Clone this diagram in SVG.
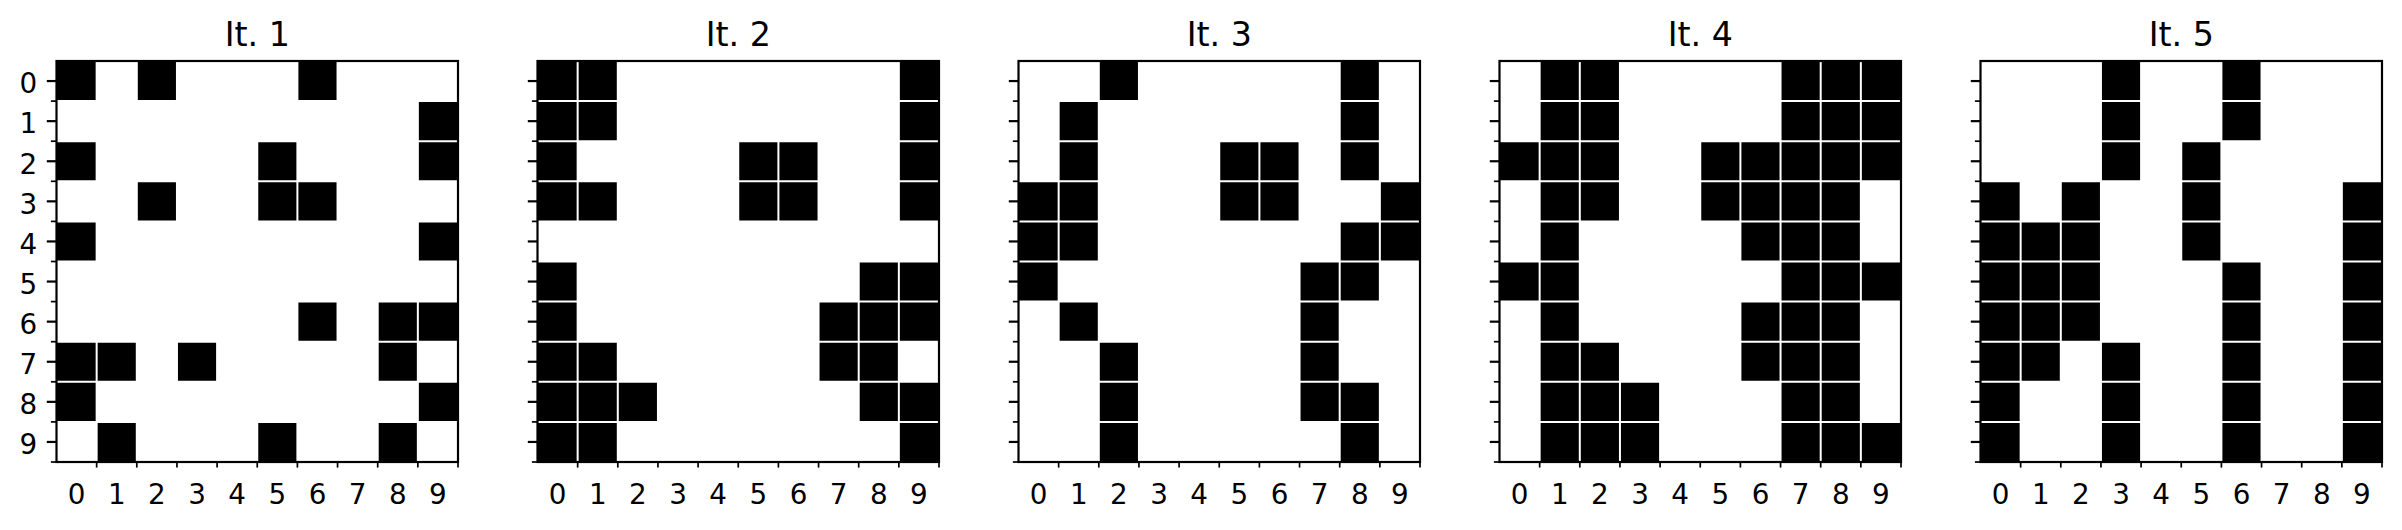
<svg xmlns="http://www.w3.org/2000/svg" width="2402" height="530" viewBox="0 0 2402 530">
<style>
text{font-family:"DejaVu Sans","Liberation Sans",sans-serif;fill:#000}
.t{font-size:33.3px;text-anchor:middle}
.xl text{font-size:27.8px;text-anchor:middle}
.yl text{font-size:27.8px;text-anchor:end}
.grid line{stroke:#fff;stroke-width:2}
.spine{fill:none;stroke:#000;stroke-width:2.2}
.maj line{stroke:#000;stroke-width:2.2}
.min line{stroke:#000;stroke-width:1.7}
</style>
<defs>
<g id="grid" class="grid">
<line x1="40.15" y1="0" x2="40.15" y2="401"/><line x1="80.3" y1="0" x2="80.3" y2="401"/><line x1="120.45" y1="0" x2="120.45" y2="401"/><line x1="160.6" y1="0" x2="160.6" y2="401"/><line x1="200.75" y1="0" x2="200.75" y2="401"/><line x1="240.9" y1="0" x2="240.9" y2="401"/><line x1="281.05" y1="0" x2="281.05" y2="401"/><line x1="321.2" y1="0" x2="321.2" y2="401"/><line x1="361.35" y1="0" x2="361.35" y2="401"/>
<line x1="0" y1="40.1" x2="401.5" y2="40.1"/><line x1="0" y1="80.2" x2="401.5" y2="80.2"/><line x1="0" y1="120.3" x2="401.5" y2="120.3"/><line x1="0" y1="160.4" x2="401.5" y2="160.4"/><line x1="0" y1="200.5" x2="401.5" y2="200.5"/><line x1="0" y1="240.6" x2="401.5" y2="240.6"/><line x1="0" y1="280.7" x2="401.5" y2="280.7"/><line x1="0" y1="320.8" x2="401.5" y2="320.8"/><line x1="0" y1="360.9" x2="401.5" y2="360.9"/>
</g>
<g id="ticks">
<g class="maj">
<line x1="-9.7" y1="20.05" x2="0" y2="20.05"/><line x1="-9.7" y1="60.15" x2="0" y2="60.15"/><line x1="-9.7" y1="100.25" x2="0" y2="100.25"/><line x1="-9.7" y1="140.35" x2="0" y2="140.35"/><line x1="-9.7" y1="180.45" x2="0" y2="180.45"/><line x1="-9.7" y1="220.55" x2="0" y2="220.55"/><line x1="-9.7" y1="260.65" x2="0" y2="260.65"/><line x1="-9.7" y1="300.75" x2="0" y2="300.75"/><line x1="-9.7" y1="340.85" x2="0" y2="340.85"/><line x1="-9.7" y1="380.95" x2="0" y2="380.95"/>
</g>
<g class="min">
<line x1="-5.6" y1="40.1" x2="0" y2="40.1"/><line x1="-5.6" y1="80.2" x2="0" y2="80.2"/><line x1="-5.6" y1="120.3" x2="0" y2="120.3"/><line x1="-5.6" y1="160.4" x2="0" y2="160.4"/><line x1="-5.6" y1="200.5" x2="0" y2="200.5"/><line x1="-5.6" y1="240.6" x2="0" y2="240.6"/><line x1="-5.6" y1="280.7" x2="0" y2="280.7"/><line x1="-5.6" y1="320.8" x2="0" y2="320.8"/><line x1="-5.6" y1="360.9" x2="0" y2="360.9"/><line x1="-5.6" y1="401" x2="0" y2="401"/>
<line x1="40.15" y1="401" x2="40.15" y2="406.6"/><line x1="80.3" y1="401" x2="80.3" y2="406.6"/><line x1="120.45" y1="401" x2="120.45" y2="406.6"/><line x1="160.6" y1="401" x2="160.6" y2="406.6"/><line x1="200.75" y1="401" x2="200.75" y2="406.6"/><line x1="240.9" y1="401" x2="240.9" y2="406.6"/><line x1="281.05" y1="401" x2="281.05" y2="406.6"/><line x1="321.2" y1="401" x2="321.2" y2="406.6"/><line x1="361.35" y1="401" x2="361.35" y2="406.6"/><line x1="401.5" y1="401" x2="401.5" y2="406.6"/>
</g>
</g>
<g id="xl" class="xl">
<text x="20.08" y="443">0</text><text x="60.23" y="443">1</text><text x="100.38" y="443">2</text><text x="140.53" y="443">3</text><text x="180.68" y="443">4</text><text x="220.83" y="443">5</text><text x="260.98" y="443">6</text><text x="301.13" y="443">7</text><text x="341.28" y="443">8</text><text x="381.43" y="443">9</text>
</g>
</defs>
<rect width="2402" height="530" fill="#fff"/>

<g id="panel1" transform="translate(56.5,61)">
<text class="t" x="200.75" y="-15.5">It. 1</text>
<g transform="scale(40.15 40.1)">
<rect x="0" y="0" width="1" height="1"/><rect x="2" y="0" width="1" height="1"/><rect x="6" y="0" width="1" height="1"/>
<rect x="9" y="1" width="1" height="1"/>
<rect x="0" y="2" width="1" height="1"/><rect x="5" y="2" width="1" height="1"/><rect x="9" y="2" width="1" height="1"/>
<rect x="2" y="3" width="1" height="1"/><rect x="5" y="3" width="1" height="1"/><rect x="6" y="3" width="1" height="1"/>
<rect x="0" y="4" width="1" height="1"/><rect x="9" y="4" width="1" height="1"/>
<rect x="6" y="6" width="1" height="1"/><rect x="8" y="6" width="1" height="1"/><rect x="9" y="6" width="1" height="1"/>
<rect x="0" y="7" width="1" height="1"/><rect x="1" y="7" width="1" height="1"/><rect x="3" y="7" width="1" height="1"/><rect x="8" y="7" width="1" height="1"/>
<rect x="0" y="8" width="1" height="1"/><rect x="9" y="8" width="1" height="1"/>
<rect x="1" y="9" width="1" height="1"/><rect x="5" y="9" width="1" height="1"/><rect x="8" y="9" width="1" height="1"/>
</g>
<use href="#grid"/>
<rect class="spine" x="0" y="0" width="401.5" height="401"/>
<use href="#ticks"/>
<use href="#xl"/>
<g class="yl">
<text x="-19.4" y="32.3">0</text><text x="-19.4" y="72.4">1</text><text x="-19.4" y="112.5">2</text><text x="-19.4" y="152.6">3</text><text x="-19.4" y="192.7">4</text><text x="-19.4" y="232.8">5</text><text x="-19.4" y="272.9">6</text><text x="-19.4" y="313">7</text><text x="-19.4" y="353.1">8</text><text x="-19.4" y="393.2">9</text>
</g>
</g>

<g id="panel2" transform="translate(537.5,61)">
<text class="t" x="200.75" y="-15.5">It. 2</text>
<g transform="scale(40.15 40.1)">
<rect x="0" y="0" width="1" height="1"/><rect x="1" y="0" width="1" height="1"/><rect x="9" y="0" width="1" height="1"/>
<rect x="0" y="1" width="1" height="1"/><rect x="1" y="1" width="1" height="1"/><rect x="9" y="1" width="1" height="1"/>
<rect x="0" y="2" width="1" height="1"/><rect x="5" y="2" width="1" height="1"/><rect x="6" y="2" width="1" height="1"/><rect x="9" y="2" width="1" height="1"/>
<rect x="0" y="3" width="1" height="1"/><rect x="1" y="3" width="1" height="1"/><rect x="5" y="3" width="1" height="1"/><rect x="6" y="3" width="1" height="1"/><rect x="9" y="3" width="1" height="1"/>
<rect x="0" y="5" width="1" height="1"/><rect x="8" y="5" width="1" height="1"/><rect x="9" y="5" width="1" height="1"/>
<rect x="0" y="6" width="1" height="1"/><rect x="7" y="6" width="1" height="1"/><rect x="8" y="6" width="1" height="1"/><rect x="9" y="6" width="1" height="1"/>
<rect x="0" y="7" width="1" height="1"/><rect x="1" y="7" width="1" height="1"/><rect x="7" y="7" width="1" height="1"/><rect x="8" y="7" width="1" height="1"/>
<rect x="0" y="8" width="1" height="1"/><rect x="1" y="8" width="1" height="1"/><rect x="2" y="8" width="1" height="1"/><rect x="8" y="8" width="1" height="1"/><rect x="9" y="8" width="1" height="1"/>
<rect x="0" y="9" width="1" height="1"/><rect x="1" y="9" width="1" height="1"/><rect x="9" y="9" width="1" height="1"/>
</g>
<use href="#grid"/>
<rect class="spine" x="0" y="0" width="401.5" height="401"/>
<use href="#ticks"/>
<use href="#xl"/>
</g>

<g id="panel3" transform="translate(1018.5,61)">
<text class="t" x="200.75" y="-15.5">It. 3</text>
<g transform="scale(40.15 40.1)">
<rect x="2" y="0" width="1" height="1"/><rect x="8" y="0" width="1" height="1"/>
<rect x="1" y="1" width="1" height="1"/><rect x="8" y="1" width="1" height="1"/>
<rect x="1" y="2" width="1" height="1"/><rect x="5" y="2" width="1" height="1"/><rect x="6" y="2" width="1" height="1"/><rect x="8" y="2" width="1" height="1"/>
<rect x="0" y="3" width="1" height="1"/><rect x="1" y="3" width="1" height="1"/><rect x="5" y="3" width="1" height="1"/><rect x="6" y="3" width="1" height="1"/><rect x="9" y="3" width="1" height="1"/>
<rect x="0" y="4" width="1" height="1"/><rect x="1" y="4" width="1" height="1"/><rect x="8" y="4" width="1" height="1"/><rect x="9" y="4" width="1" height="1"/>
<rect x="0" y="5" width="1" height="1"/><rect x="7" y="5" width="1" height="1"/><rect x="8" y="5" width="1" height="1"/>
<rect x="1" y="6" width="1" height="1"/><rect x="7" y="6" width="1" height="1"/>
<rect x="2" y="7" width="1" height="1"/><rect x="7" y="7" width="1" height="1"/>
<rect x="2" y="8" width="1" height="1"/><rect x="7" y="8" width="1" height="1"/><rect x="8" y="8" width="1" height="1"/>
<rect x="2" y="9" width="1" height="1"/><rect x="8" y="9" width="1" height="1"/>
</g>
<use href="#grid"/>
<rect class="spine" x="0" y="0" width="401.5" height="401"/>
<use href="#ticks"/>
<use href="#xl"/>
</g>

<g id="panel4" transform="translate(1499.5,61)">
<text class="t" x="200.75" y="-15.5">It. 4</text>
<g transform="scale(40.15 40.1)">
<rect x="1" y="0" width="1" height="1"/><rect x="2" y="0" width="1" height="1"/><rect x="7" y="0" width="1" height="1"/><rect x="8" y="0" width="1" height="1"/><rect x="9" y="0" width="1" height="1"/>
<rect x="1" y="1" width="1" height="1"/><rect x="2" y="1" width="1" height="1"/><rect x="7" y="1" width="1" height="1"/><rect x="8" y="1" width="1" height="1"/><rect x="9" y="1" width="1" height="1"/>
<rect x="0" y="2" width="1" height="1"/><rect x="1" y="2" width="1" height="1"/><rect x="2" y="2" width="1" height="1"/><rect x="5" y="2" width="1" height="1"/><rect x="6" y="2" width="1" height="1"/><rect x="7" y="2" width="1" height="1"/><rect x="8" y="2" width="1" height="1"/><rect x="9" y="2" width="1" height="1"/>
<rect x="1" y="3" width="1" height="1"/><rect x="2" y="3" width="1" height="1"/><rect x="5" y="3" width="1" height="1"/><rect x="6" y="3" width="1" height="1"/><rect x="7" y="3" width="1" height="1"/><rect x="8" y="3" width="1" height="1"/>
<rect x="1" y="4" width="1" height="1"/><rect x="6" y="4" width="1" height="1"/><rect x="7" y="4" width="1" height="1"/><rect x="8" y="4" width="1" height="1"/>
<rect x="0" y="5" width="1" height="1"/><rect x="1" y="5" width="1" height="1"/><rect x="7" y="5" width="1" height="1"/><rect x="8" y="5" width="1" height="1"/><rect x="9" y="5" width="1" height="1"/>
<rect x="1" y="6" width="1" height="1"/><rect x="6" y="6" width="1" height="1"/><rect x="7" y="6" width="1" height="1"/><rect x="8" y="6" width="1" height="1"/>
<rect x="1" y="7" width="1" height="1"/><rect x="2" y="7" width="1" height="1"/><rect x="6" y="7" width="1" height="1"/><rect x="7" y="7" width="1" height="1"/><rect x="8" y="7" width="1" height="1"/>
<rect x="1" y="8" width="1" height="1"/><rect x="2" y="8" width="1" height="1"/><rect x="3" y="8" width="1" height="1"/><rect x="7" y="8" width="1" height="1"/><rect x="8" y="8" width="1" height="1"/>
<rect x="1" y="9" width="1" height="1"/><rect x="2" y="9" width="1" height="1"/><rect x="3" y="9" width="1" height="1"/><rect x="7" y="9" width="1" height="1"/><rect x="8" y="9" width="1" height="1"/><rect x="9" y="9" width="1" height="1"/>
</g>
<use href="#grid"/>
<rect class="spine" x="0" y="0" width="401.5" height="401"/>
<use href="#ticks"/>
<use href="#xl"/>
</g>

<g id="panel5" transform="translate(1980.5,61)">
<text class="t" x="200.75" y="-15.5">It. 5</text>
<g transform="scale(40.15 40.1)">
<rect x="3" y="0" width="1" height="1"/><rect x="6" y="0" width="1" height="1"/>
<rect x="3" y="1" width="1" height="1"/><rect x="6" y="1" width="1" height="1"/>
<rect x="3" y="2" width="1" height="1"/><rect x="5" y="2" width="1" height="1"/>
<rect x="0" y="3" width="1" height="1"/><rect x="2" y="3" width="1" height="1"/><rect x="5" y="3" width="1" height="1"/><rect x="9" y="3" width="1" height="1"/>
<rect x="0" y="4" width="1" height="1"/><rect x="1" y="4" width="1" height="1"/><rect x="2" y="4" width="1" height="1"/><rect x="5" y="4" width="1" height="1"/><rect x="9" y="4" width="1" height="1"/>
<rect x="0" y="5" width="1" height="1"/><rect x="1" y="5" width="1" height="1"/><rect x="2" y="5" width="1" height="1"/><rect x="6" y="5" width="1" height="1"/><rect x="9" y="5" width="1" height="1"/>
<rect x="0" y="6" width="1" height="1"/><rect x="1" y="6" width="1" height="1"/><rect x="2" y="6" width="1" height="1"/><rect x="6" y="6" width="1" height="1"/><rect x="9" y="6" width="1" height="1"/>
<rect x="0" y="7" width="1" height="1"/><rect x="1" y="7" width="1" height="1"/><rect x="3" y="7" width="1" height="1"/><rect x="6" y="7" width="1" height="1"/><rect x="9" y="7" width="1" height="1"/>
<rect x="0" y="8" width="1" height="1"/><rect x="3" y="8" width="1" height="1"/><rect x="6" y="8" width="1" height="1"/><rect x="9" y="8" width="1" height="1"/>
<rect x="0" y="9" width="1" height="1"/><rect x="3" y="9" width="1" height="1"/><rect x="6" y="9" width="1" height="1"/><rect x="9" y="9" width="1" height="1"/>
</g>
<use href="#grid"/>
<rect class="spine" x="0" y="0" width="401.5" height="401"/>
<use href="#ticks"/>
<use href="#xl"/>
</g>
</svg>
